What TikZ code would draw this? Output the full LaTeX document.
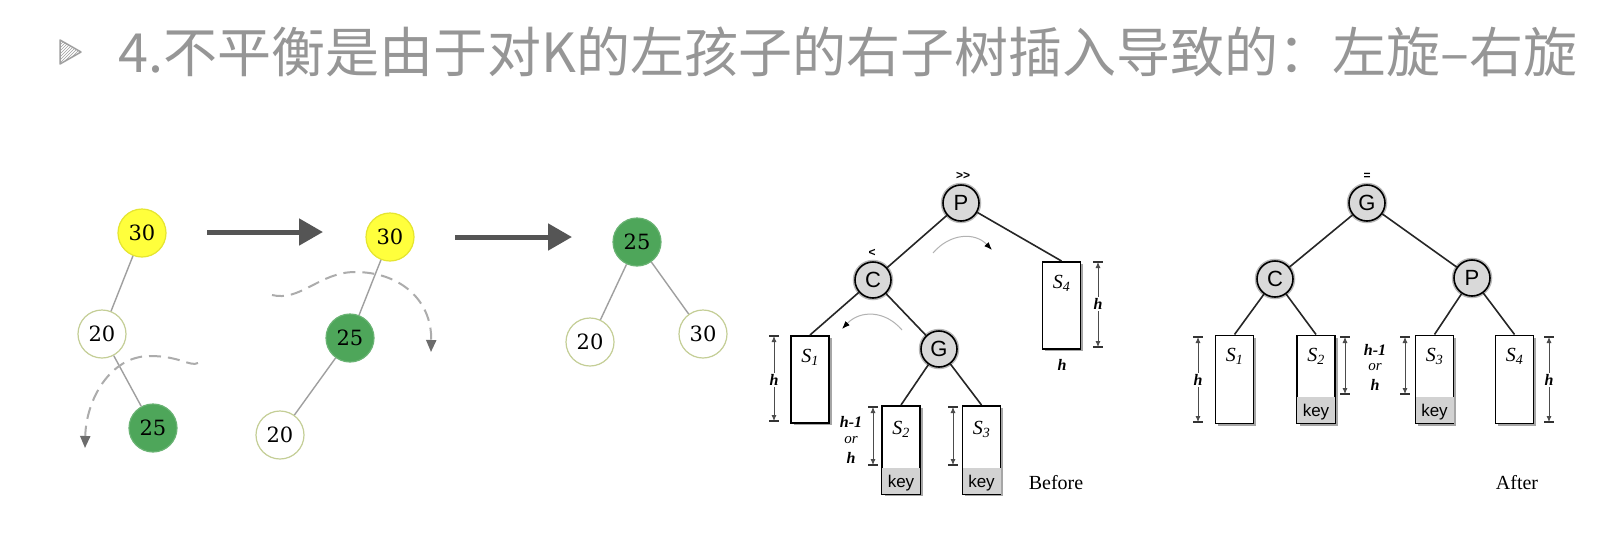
\documentclass[tikz,border=0pt]{standalone}
\usepackage{fontspec}
\newfontfamily\cjk{Noto Sans CJK SC}
\newfontfamily\arialf{Liberation Sans}
\newfontfamily\tnr{Liberation Serif}
\newfontfamily\numf{DejaVu Serif}
\usetikzlibrary{arrows.meta,shadows,patterns}
\definecolor{ttl}{RGB}{150,150,150}
\definecolor{ylw}{RGB}{255,255,60}
\definecolor{grn}{RGB}{78,166,90}
\definecolor{ring}{RGB}{196,206,150}
\definecolor{bigarrow}{RGB}{85,85,85}
\newcommand\dimv[3]{%
  \draw[dimln] (#1,#2) -- (#1,#3);
  \draw[dimbar] (#1-5,#2) -- (#1+5,#2);
  \draw[dimbar] (#1-5,#3) -- (#1+5,#3);}
\begin{document}
\begin{tikzpicture}[x=1pt,y=-1pt,
  num/.style={circle, minimum size=48pt, inner sep=0pt, draw=ring, line width=1.2pt, font=\numf\fontsize{21}{22}\selectfont},
  yel/.style={num, fill=ylw, draw=ylw!80!olive},
  grnn/.style={num, fill=grn, draw=grn!85!white},
  wht/.style={num, fill=white},
  tedge/.style={draw=gray!75, line width=1.4pt},
  bigarr/.style={draw=bigarrow, line width=5pt, -{Triangle[length=24pt,width=26pt]}},
  dashcurve/.style={draw=gray!65, line width=2pt, dash pattern=on 12pt off 7pt, -{Triangle[length=12pt,width=10pt,color=gray!85!black]}},
  cnode/.style={circle, minimum size=36pt, inner sep=0pt, draw=black, line width=1.6pt, fill=gray!30, font=\arialf\fontsize{22}{22}\selectfont, preaction={draw=gray!55, line width=4.5pt}},
  tbox/.style={rectangle, anchor=north, minimum width=38pt, minimum height=87pt, inner sep=0pt, draw=black, line width=1.6pt, fill=white, drop shadow={shadow xshift=2.5pt, shadow yshift=-2.5pt, fill=gray!70, opacity=1}},
  bedge/.style={draw=black!85, line width=1.6pt},
  slab/.style={font=\tnr\itshape\fontsize{20}{20}\selectfont, inner sep=0pt},
  hlab/.style={font=\tnr\itshape\bfseries\fontsize{16}{16}\selectfont, inner sep=1.5pt, fill=white},
  olab/.style={font=\tnr\itshape\fontsize{15}{15}\selectfont, inner sep=0pt},
  keylab/.style={font=\arialf\fontsize{17}{17}\selectfont, inner sep=0pt},
  marklab/.style={font=\arialf\bfseries\fontsize{12}{12}\selectfont, inner sep=0pt},
  caption/.style={font=\tnr\fontsize{20}{20}\selectfont, inner sep=0pt},
  dimln/.style={draw=black!70, line width=0.8pt, {Latex[length=6pt,width=5pt]}-{Latex[length=6pt,width=5pt]}},
  dimbar/.style={draw=black!80, line width=1.2pt},
  rot/.style={draw=gray!60, line width=1pt, -{Latex[length=8pt,width=6pt,color=black]}}
]
\fill[white] (0,0) rectangle (1620,558);
\useasboundingbox (0,0) rectangle (1620,558);

% title
\draw[gray!75, line width=1.5pt, line join=round, pattern=north east lines, pattern color=gray!75] (60,40) -- (81,52) -- (60,64) -- cycle;
\node[anchor=base west, text=ttl, font=\cjk\fontsize{54}{60}\selectfont, inner sep=0pt] (title) at (118,72) {4.不平衡是由于对K的左孩子的右子树插入导致的：左旋–右旋};

% tree 1
\node[yel] (a30) at (142,233) {30};
\node[wht] (a20) at (102,334) {20};
\node[grnn] (a25) at (153,428) {25};
\draw[tedge] (a30) -- (a20);
\draw[tedge] (a20) -- (a25);
\coordinate (c1s) at (198,363);
\coordinate (c1e) at (85,448);
\draw[dashcurve] (c1s) .. controls (190,367) and (180,356) .. (150,356) .. controls (110,356) and (86,400) .. (c1e);

\coordinate (ar1s) at (207,232);
\coordinate (ar1e) at (323,232);
\draw[bigarr] (ar1s) -- (ar1e);

% tree 2
\node[yel] (b30) at (390,237) {30};
\node[grnn] (b25) at (350,338) {25};
\node[wht] (b20) at (280,435) {20};
\draw[tedge] (b30) -- (b25);
\draw[tedge] (b25) -- (b20);
\coordinate (c2s) at (272,295);
\coordinate (c2e) at (431,352);
\draw[dashcurve] (c2s) .. controls (300,302) and (320,272) .. (355,272) .. controls (400,272) and (432,300) .. (c2e);

\coordinate (ar2s) at (455,237);
\coordinate (ar2e) at (572,237);
\draw[bigarr] (ar2s) -- (ar2e);

% tree 3
\node[grnn] (c25) at (637,242) {25};
\node[wht] (c20) at (590,342) {20};
\node[wht] (c30) at (703,334) {30};
\draw[tedge] (c25) -- (c20);
\draw[tedge] (c25) -- (c30);

% ---------- Before ----------
\node[tbox] (bS4) at (1061.5,261) {};
\node[tbox] (bS1) at (810,335) {};
\node[tbox, minimum height=88pt] (bS2) at (901,405) {};
\node[tbox, minimum height=88pt] (bS3) at (981.5,405) {};
\node[cnode] (bP) at (961,203) {P};
\node[cnode] (bC) at (873,280) {C};
\node[cnode] (bG) at (939,349) {G};
\draw[bedge] (bP) -- (bC);
\draw[bedge] (bP) -- (bS4.north);
\draw[bedge] (bC) -- (bS1.north);
\draw[bedge] (bC) -- (bG);
\draw[bedge] (bG) -- (bS2.north);
\draw[bedge] (bG) -- (bS3.north);
\node[marklab] (bPm) at (963,176) {>>};
\node[marklab] (bCm) at (872,253) {<};

\fill[gray!35] ([xshift=0.8pt,yshift=0.8pt]bS2.south west) rectangle ([xshift=-0.8pt,yshift=27pt]bS2.south east);
\fill[gray!35] ([xshift=0.8pt,yshift=0.8pt]bS3.south west) rectangle ([xshift=-0.8pt,yshift=27pt]bS3.south east);
\node[keylab] (bk2) at ([yshift=12pt]bS2.south) {key};
\node[keylab] (bk3) at ([yshift=12pt]bS3.south) {key};

\node[slab] (bl1) at ([yshift=-22pt]bS1.north) {S\textsubscript{\itshape 1}};
\node[slab] (bl2) at ([yshift=-24pt]bS2.north) {S\textsubscript{\itshape 2}};
\node[slab] (bl3) at ([yshift=-24pt]bS3.north) {S\textsubscript{\itshape 3}};
\node[slab] (bl4) at ([yshift=-22pt]bS4.north) {S\textsubscript{\itshape 4}};

\dimv{774}{336}{421}
\node[hlab] (bh1) at (774,380) {h};
\dimv{873}{407}{465}
\node[hlab, fill=none] (bh2a) at (851,422) {h-1};
\node[olab] (bh2b) at (851,440) {or};
\node[hlab, fill=none] (bh2c) at (851,458) {h};
\dimv{953}{407}{465}
\dimv{1098}{262}{347}
\node[hlab] (bh4) at (1098,304) {h};
\node[hlab, fill=none] (bh4b) at (1062,365) {h};

\coordinate (r1s) at (933,253);
\coordinate (r1e) at (992,250);
\draw[rot] (r1s) .. controls (950,233) and (975,232) .. (r1e);
\coordinate (r2s) at (902,330);
\coordinate (r2e) at (842,329);
\draw[rot] (r2s) .. controls (885,310) and (860,310) .. (r2e);

\node[caption] (before) at (1056,483) {Before};

% ---------- After ----------
\node[tbox, minimum height=88pt] (aS1) at (1234.5,334.5) {};
\node[tbox, minimum height=88pt] (aS2) at (1316,334.5) {};
\node[tbox, minimum height=88pt] (aS3) at (1434.5,334.5) {};
\node[tbox, minimum height=88pt] (aS4) at (1514.5,334.5) {};
\node[cnode] (aG) at (1367,203) {G};
\node[cnode] (aC) at (1275,279) {C};
\node[cnode] (aP) at (1472,278) {P};
\draw[bedge] (aG) -- (aC);
\draw[bedge] (aG) -- (aP);
\draw[bedge] (aC) -- (aS1.north);
\draw[bedge] (aC) -- (aS2.north);
\draw[bedge] (aP) -- (aS3.north);
\draw[bedge] (aP) -- (aS4.north);
\node[marklab] (aGm) at (1367,176) {=};

\fill[gray!35] ([xshift=0.8pt,yshift=0.8pt]aS2.south west) rectangle ([xshift=-0.8pt,yshift=27pt]aS2.south east);
\fill[gray!35] ([xshift=0.8pt,yshift=0.8pt]aS3.south west) rectangle ([xshift=-0.8pt,yshift=27pt]aS3.south east);
\node[keylab] (ak2) at ([yshift=12pt]aS2.south) {key};
\node[keylab] (ak3) at ([yshift=12pt]aS3.south) {key};

\node[slab] (al1) at ([yshift=-22pt]aS1.north) {S\textsubscript{\itshape 1}};
\node[slab] (al2) at ([yshift=-22pt]aS2.north) {S\textsubscript{\itshape 2}};
\node[slab] (al3) at ([yshift=-22pt]aS3.north) {S\textsubscript{\itshape 3}};
\node[slab] (al4) at ([yshift=-22pt]aS4.north) {S\textsubscript{\itshape 4}};

\dimv{1198}{337}{422}
\node[hlab] (ah1) at (1198,380) {h};
\dimv{1345}{337}{394}
\node[hlab, fill=none] (ahm1) at (1375,350) {h-1};
\node[olab] (ahm2) at (1375,367) {or};
\node[hlab, fill=none] (ahm3) at (1375,385) {h};
\dimv{1405}{337}{394}
\dimv{1549}{337}{422}
\node[hlab] (ah4) at (1549,380) {h};

\node[caption] (after) at (1517,483) {After};
\end{tikzpicture}
\end{document}
